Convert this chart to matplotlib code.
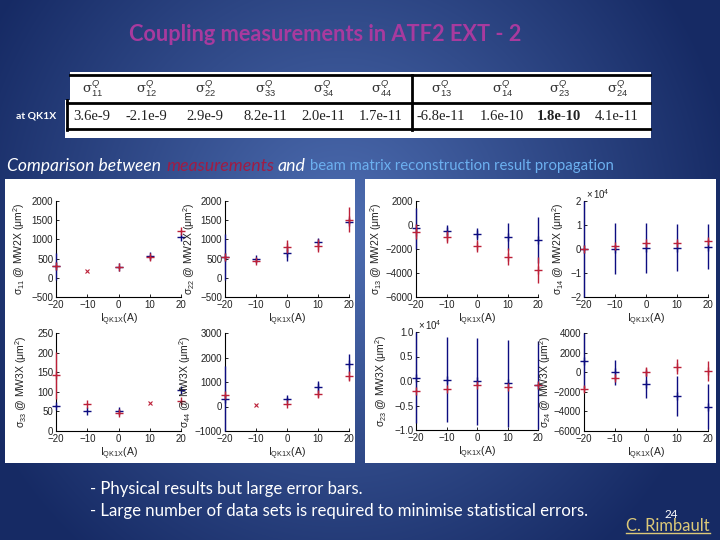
import numpy as np
import matplotlib
matplotlib.use('Agg')
import matplotlib.pyplot as plt
from matplotlib.patches import Rectangle

plt.rcParams['font.family'] = ['Liberation Sans', 'DejaVu Sans']
plt.rcParams['mathtext.fontset'] = 'custom'
plt.rcParams['mathtext.rm'] = 'Liberation Sans'
plt.rcParams['mathtext.it'] = 'Liberation Sans:italic'

current = [-20, -10, 0, 10, 20]
nan = float('nan')

# table
table_heads = ['11', '12', '22', '33', '34', '44', '13', '14', '23', '24']
table_values = ['3.6e-9', '-2.1e-9', '2.9e-9', '8.2e-11', '2.0e-11',
                '1.7e-11', '-6.8e-11', '1.6e-10', '1.8e-10', '4.1e-11']

# top row
s11_blue = [296, nan, 270, 555, 1074]
s11_blue_err = [350, 0, 20, 40, 20]
s11_red = [296, nan, 270, 530, 1221]
s11_red_err = [40, 0, 20, 30, 20]
s11_cross = [nan, 183, nan, nan, nan]

s22_blue = [530, 495, 633, 945, 1446]
s22_blue_err = [600, 30, 200, 60, 20]
s22_red = [530, 443, 815, 840, 1507]
s22_red_err = [40, 30, 170, 170, 325]
s22_cross = [nan, nan, nan, nan, nan]

s13_blue = [-271, -493, -742, -964, -1241]
s13_blue_err = [1700, 480, 480, 1100, 1900]
s13_red = [-548, -1020, -1712, -2626, -3762]
s13_red_err = [650, 500, 500, 670, 1080]
s13_cross = [nan, nan, nan, nan, nan]

s14_blue = [0, 0.02, 0.06, 0.06, 0.1]
s14_blue_err = [2, 1.05, 1.04, 0.97, 0.93]
s14_red = [0, 0.13, 0.24, 0.27, 0.35]
s14_red_err = [0.03, 0.05, 0.05, 0.05, 0.05]
s14_cross = [nan, nan, nan, nan, nan]

# bottom row
s33_blue = [64, 52, 52, nan, 104]
s33_blue_err = [3, 2, 4, 0, 2]
s33_red = [142, 70, 47, nan, 76]
s33_red_err = [60, 2, 4, 0, 2]
s33_cross = [nan, nan, nan, 71, nan]

s44_blue = [320, nan, 293, 796, 1748]
s44_blue_err = [1320, 0, 100, 240, 400]
s44_red = [456, nan, 102, 510, 1245]
s44_red_err = [60, 0, 60, 130, 200]
s44_cross = [nan, 47, nan, nan, nan]

s23_blue = [0.07, 0.03, -0.01, -0.05, -0.08]
s23_blue_err = [0.93, 0.87, 0.88, 0.88, 0.9]
s23_red = [-0.2, -0.165, -0.08, -0.13, -0.08]
s23_red_err = [0.01, 0.01, 0.01, 0.01, 0.01]
s23_cross = [nan, nan, nan, nan, nan]

s24_blue = [1190, 0, -1190, -2400, -3500]
s24_blue_err = [2800, 1260, 1450, 2040, 2330]
s24_red = [-1700, -610, 70, 580, 100]
s24_red_err = [300, 200, 500, 800, 1000]
s24_cross = [nan, nan, nan, nan, nan]

BLUE = '#0c0c80'
RED = '#bc2038'


def px_axes(fig, x0, y0, x1, y1):
    return fig.add_axes([x0 / 720, 1 - y1 / 540, (x1 - x0) / 720, (y1 - y0) / 540])


def panel(fig, box, label_x, blue, blue_err, red, red_err, cross, ylim, ticks, ylabel, scale=None):
    ax = px_axes(fig, *box)
    ax.patch.set_alpha(0)
    ax.errorbar(current, blue, yerr=blue_err, fmt='+', c=BLUE, ms=5.5, mew=1, elinewidth=1, clip_on=False, zorder=3)
    ax.errorbar(current, red, yerr=red_err, fmt='+', c=RED, ms=5.5, mew=1, elinewidth=1, clip_on=False, zorder=4)
    ax.plot(current, cross, 'x', c=RED, ms=3.5, mew=0.8, clip_on=False)
    ax.set_xlim(-20, 20)
    ax.set_ylim(*ylim)
    ax.set_xticks(current)
    ax.set_yticks(ticks)
    ax.tick_params(direction='in', length=2, width=0.7, labelsize=7, pad=2, colors='#222222')
    for side in ['top', 'right']:
        ax.spines[side].set_visible(False)
    ax.set_xlabel(r'I$_{\rm QK1X}$(A)', fontsize=7.5, labelpad=1, color='#222222')
    ax.set_ylabel(ylabel, fontsize=7.5, color='#222222')
    # label sits with its right side on the coord, so push it over by half its height
    ax.yaxis.set_label_coords((label_x + 6 - box[0]) / (box[2] - box[0]), 0.5)
    if scale:
        ax.text(0.02, 1.0, scale, transform=ax.transAxes, fontsize=7, va='bottom', color='#222222')
    return ax


fig = plt.figure(figsize=(7.2, 5.4), dpi=100)

# slide backdrop in pixel coordinates
bg = fig.add_axes([0, 0, 1, 1])
bg.axis('off')
yy, xx = np.mgrid[0:540, 0:720]
t = np.clip(np.hypot((xx - 340) / 400, (yy - 230) / 420), 0, 1)[..., None]
inner = np.array([78, 110, 178]) / 255
outer = np.array([22, 42, 100]) / 255
bg.imshow(inner * (1 - t) + outer * t, extent=(0, 720, 540, 0), aspect='auto', zorder=0)

bg.add_patch(Rectangle((5, 179), 350, 284, fc='white', ec='none', zorder=1))
bg.add_patch(Rectangle((365, 179), 351, 284, fc='white', ec='none', zorder=1))

# table
bg.add_patch(Rectangle((70, 72), 581, 31, fc='white', ec='none', zorder=1))
bg.add_patch(Rectangle((65, 100), 586, 38, fc='white', ec='none', zorder=1))
bg.plot([70, 650], [75, 75], c='k', lw=2, zorder=2)
bg.plot([67, 650], [103, 103], c='k', lw=2, zorder=2)
bg.plot([67, 650], [129, 129], c='k', lw=2, zorder=2)
bg.plot([67, 67], [100, 130], c='k', lw=2, zorder=2)
bg.plot([412, 412], [75, 130], c='k', lw=2, zorder=2)
head_x = [93, 147, 206, 266, 324, 382, 442, 503, 560, 618]
for i in range(len(table_heads)):
    bg.text(head_x[i], 89, r'$\mathregular{\sigma}_{%s}^{Q}$' % table_heads[i], ha='center', va='center',
            fontsize=9.5, family='DejaVu Serif', color='#333333', zorder=3)
    bold = table_values[i] == '1.8e-10'
    bg.text(head_x[i] - 1, 116, table_values[i], ha='center', va='center', fontsize=10.5,
            family='Liberation Serif', color='#222222', weight='bold' if bold else 'normal', zorder=3)

# slide texts
bg.text(129, 34.5, 'Coupling measurements in ATF2 EXT - 2', fontsize=15.7, family='Lato', weight='bold',
        color='#a83a9e', va='center')
bg.text(16, 116, 'at QK1X', fontsize=7.5, family='Lato', weight='bold', color='white', va='center')
bg.text(7, 166, 'Comparison between', fontsize=12.6, family='Lato', style='italic', color='white', va='center')
bg.text(166, 166, 'measurements', fontsize=12.8, family='Lato', style='italic', color='#a01c44', va='center')
bg.text(278, 166, 'and', fontsize=12.8, family='Lato', style='italic', color='white', va='center')
bg.text(310, 166, 'beam matrix reconstruction result propagation', fontsize=10.7, family='Lato',
        color='#6cb0f0', va='center')
bg.text(90, 489, '- Physical results but large error bars.', fontsize=12.1, family='Lato', color='white', va='center')
bg.text(90, 511, '- Large number of data sets is required to minimise statistical errors.', fontsize=12.1,
        family='Lato', color='white', va='center')
bg.text(671, 514, '24', fontsize=8.5, family='Lato', color='white', ha='center', va='center')
bg.text(626, 526, 'C. Rimbault', fontsize=11.9, family='Lato', color='#dcc878', va='center')
bg.plot([626, 710], [533, 533], c='#dcc878', lw=1)
bg.set_xlim(0, 720)
bg.set_ylim(540, 0)

panel(fig, (56, 201, 181, 297), 21, s11_blue, s11_blue_err, s11_red, s11_red_err, s11_cross,
      (-500, 2000), [-500, 0, 500, 1000, 1500, 2000], r'$\mathregular{\sigma}_{11}$ @ MW2X ($\mathregular{\mu}$m$^2$)')
panel(fig, (225, 201, 349, 297), 191, s22_blue, s22_blue_err, s22_red, s22_red_err, s22_cross,
      (-500, 2000), [-500, 0, 500, 1000, 1500, 2000], r'$\mathregular{\sigma}_{22}$ @ MW2X ($\mathregular{\mu}$m$^2$)')
panel(fig, (416, 201, 538, 297), 378, s13_blue, s13_blue_err, s13_red, s13_red_err, s13_cross,
      (-6000, 2000), [-6000, -4000, -2000, 0, 2000], r'$\mathregular{\sigma}_{13}$ @ MW2X ($\mathregular{\mu}$m$^2$)')
panel(fig, (584, 201, 708, 297), 560, s14_blue, s14_blue_err, s14_red, s14_red_err, s14_cross,
      (-2, 2), [-2, -1, 0, 1, 2], r'$\mathregular{\sigma}_{14}$ @ MW2X ($\mathregular{\mu}$m$^2$)', r'$\times\,10^4$')
panel(fig, (56, 333, 181, 431), 23, s33_blue, s33_blue_err, s33_red, s33_red_err, s33_cross,
      (0, 250), [0, 50, 100, 150, 200, 250], r'$\mathregular{\sigma}_{33}$ @ MW3X ($\mathregular{\mu}$m$^2$)')
panel(fig, (225, 333, 349, 431), 187, s44_blue, s44_blue_err, s44_red, s44_red_err, s44_cross,
      (-1000, 3000), [-1000, 0, 1000, 2000, 3000], r'$\mathregular{\sigma}_{44}$ @ MW3X ($\mathregular{\mu}$m$^2$)')
panel(fig, (416, 332, 538, 430), 383, s23_blue, s23_blue_err, s23_red, s23_red_err, s23_cross,
      (-1, 1), [-1, -0.5, 0, 0.5, 1], r'$\mathregular{\sigma}_{23}$ @ MW3X ($\mathregular{\mu}$m$^2$)', r'$\times\,10^4$')
panel(fig, (584, 333, 708, 431), 547, s24_blue, s24_blue_err, s24_red, s24_red_err, s24_cross,
      (-6000, 4000), [-6000, -4000, -2000, 0, 2000, 4000], r'$\mathregular{\sigma}_{24}$ @ MW3X ($\mathregular{\mu}$m$^2$)')

fig.savefig('out.png', dpi=100)
